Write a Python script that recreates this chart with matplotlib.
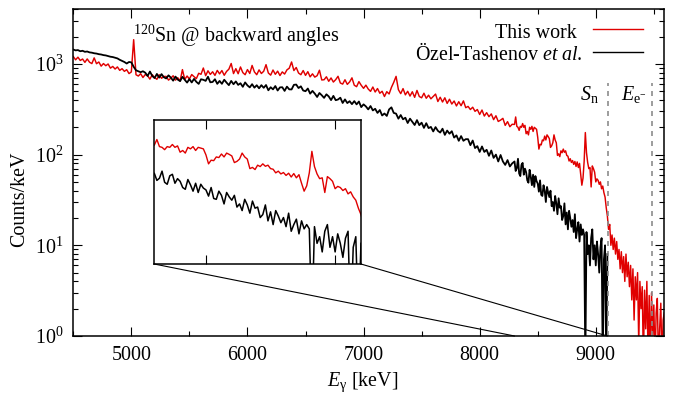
import numpy as np
import matplotlib
matplotlib.use('Agg')
import matplotlib.pyplot as plt
from matplotlib.patches import ConnectionPatch
from matplotlib.lines import Line2D
from matplotlib.ticker import LogLocator, NullFormatter, MultipleLocator, NullLocator, FixedLocator

plt.rcParams['font.family'] = ['Liberation Serif', 'DejaVu Serif']
plt.rcParams['mathtext.fontset'] = 'custom'
plt.rcParams['mathtext.rm'] = 'Liberation Serif'
plt.rcParams['mathtext.it'] = 'Liberation Serif:italic'
plt.rcParams['mathtext.bf'] = 'Liberation Serif:bold'

# ---------------- data (counts/keV) ----------------
# segment A: 4500 keV upward in 20 keV steps
start_a, step_a = 4500, 20
red_a = [
    1205, 1109, 1186, 1091, 1132, 1040, 1134, 1044, 1008, 1165,
    1005, 1050, 945, 1009, 955, 998, 898, 938, 878, 926,
    849, 886, 828, 863, 782, 816, 1850, 760, 735, 780,
    708, 764, 740, 679, 761, 708, 676, 760, 694, 726,
    728, 663, 695, 740, 662, 704, 649, 865, 674, 735,
    682, 763, 723, 688, 788, 768, 901, 741, 840, 766,
    819, 747, 848, 776, 845, 749, 826, 875, 1011, 782,
    886, 779, 925, 802, 760, 866, 784, 962, 816, 760,
    859, 784, 830, 981, 794, 752, 856, 768, 832, 744,
    816, 773, 859, 897, 1050, 845, 913, 794, 760, 845,
    747, 821, 720, 777, 715, 742, 852, 665, 669, 721,
    643, 700, 631, 671, 730, 616, 599, 669, 595, 633,
    702, 582, 561, 638, 581, 538, 583, 529, 498, 556,
    490, 535, 475, 499, 437, 494, 466, 551, 627, 729,
    520, 470, 534, 456, 499, 442, 493, 428, 510, 437,
    423, 475, 418, 452, 412, 437, 465, 385, 429, 380,
    423, 367, 408, 361, 390, 344, 383, 346, 391, 329,
    340, 314, 333, 300, 314, 277, 310, 266, 290, 262,
    281, 243, 268, 232, 240, 251, 210, 231, 203, 216,
]
black_a = [
    1440, 1410, 1420, 1380, 1395, 1360, 1370, 1340, 1330, 1310,
    1300, 1280, 1270, 1250, 1240, 1220, 1200, 1190, 1170, 1150,
    1110, 1080, 1050, 1010, 1050, 1040, 930, 850, 830, 810,
    830, 800, 736, 824, 737, 698, 775, 706, 772, 713,
    691, 748, 707, 653, 725, 671, 646, 721, 668, 622,
    681, 624, 684, 634, 602, 677, 668, 650, 722, 627,
    632, 678, 603, 649, 603, 669, 622, 583, 649, 597,
    641, 587, 612, 559, 625, 579, 551, 598, 547, 582,
    538, 583, 545, 585, 512, 553, 524, 570, 509, 551,
    553, 504, 562, 524, 523, 588, 592, 542, 566, 509,
    500, 535, 470, 504, 470, 432, 478, 451, 422, 462,
    438, 399, 444, 398, 405, 424, 371, 406, 370, 388,
    360, 389, 358, 385, 334, 358, 340, 315, 343, 307,
    320, 288, 310, 270, 284, 267, 315, 332, 288, 283,
    249, 273, 245, 255, 223, 249, 230, 212, 240, 211,
    225, 197, 222, 196, 202, 180, 201, 183, 175, 193,
    165, 184, 170, 181, 154, 163, 142, 160, 142, 148,
    148, 127, 143, 118, 124, 107, 123, 107, 113, 97,
    111, 92, 100, 84, 99, 84, 77, 87, 74, 80,
]
# segment B: 8300 keV upward in 10 keV steps
start_b, step_b = 8300, 10
red_b = [
    215, 260, 205, 200, 185, 205, 200, 220, 200, 210,
    170, 180, 165, 200, 190, 205, 180, 200, 195, 190,
    155, 115, 130, 128, 145, 142, 160, 145, 165, 158,
    150, 120, 125, 135, 165, 145, 135, 98, 102, 95,
    110, 105, 115, 106, 110, 98, 96, 85, 90, 82,
    86, 78, 84, 74, 83, 72, 80, 60, 46, 55,
    85, 175, 105, 82, 70, 72, 44, 75, 70, 64,
    50, 54, 52, 47, 50, 42, 45, 38, 34, 26,
    21, 15, 17, 10, 13, 9, 12, 8, 11, 7,
    9, 5.5, 8.5, 5, 7.5, 4, 8, 4.5, 6.5, 3.5,
    6, 2.5, 5.5, 1.5, 4.5, 2.5, 5, 0.8, 4, 2,
    3.5, 0.5, 3.2, 1.2, 4, 0.6, 2.8, 0.5, 3, 1,
    2.2, 0.5, 1.8, 2.6, 0.5, 1.2, 2.3, 0.5, 1.5, 1.8,
]
black_b = [
    84, 66, 71, 90, 62, 58, 77, 81, 60, 70,
    64, 52, 49, 68, 57, 46, 60, 44, 58, 51,
    48, 39, 52, 36, 35, 46, 40, 30, 44, 38,
    34, 40, 27, 30, 24, 35, 29, 22, 33, 26,
    27, 19, 21, 29, 17, 23, 15, 24, 20, 16,
    19, 14, 22, 12, 15, 18, 11, 17, 13, 15,
    13, 0.5, 14, 8, 10, 6, 12, 15, 7, 10,
    6, 11, 8, 5, 9.5, 12, 0.5, 7, 10, 0.5,
    8,
]
thresholds = [9107, 9483]          # S_n and E_e- markers (keV)
threshold_labels = [r"$S_{\mathrm{n}}$", r"$E_{\mathrm{e}^{\mathrm{-}}}$"]
series_labels = ["This work", r"Özel-Tashenov $\mathit{et\ al.}$"]

e_red = np.concatenate([start_a + step_a * np.arange(len(red_a)),
                        start_b + step_b * np.arange(len(red_b))])
v_red = np.array(red_a + red_b, dtype=float)
e_blk = np.concatenate([start_a + step_a * np.arange(len(black_a)),
                        start_b + step_b * np.arange(len(black_b))])
v_blk = np.array(black_a + black_b, dtype=float)

RED = '#e00000'
FS = 14.4

fig = plt.figure(figsize=(6.83, 3.94), dpi=100)
ax = fig.add_axes([0.1073, 0.1472, 0.8653, 0.8292])

ax.plot(e_red, v_red, color=RED, lw=1.05)
ax.plot(e_blk, v_blk, color='black', lw=1.3)

ax.set_yscale('log')
ax.set_xlim(4500, 9590)
ax.set_ylim(1, 4000)
ax.xaxis.set_major_locator(MultipleLocator(1000))
ax.xaxis.set_minor_locator(MultipleLocator(500))
ax.yaxis.set_major_locator(LogLocator(base=10))
ax.yaxis.set_minor_locator(LogLocator(base=10, subs=np.arange(2, 10)))
ax.yaxis.set_minor_formatter(NullFormatter())
ax.tick_params(which='both', direction='in', top=True, right=True,
               labelsize=FS, width=0.8, pad=7)
ax.tick_params(which='major', length=6.5)
ax.tick_params(which='minor', length=3.3)
for s in ax.spines.values():
    s.set_linewidth(1.1)

ax.set_xlabel(r"$E_{\mathrm{\gamma}}$ [keV]", fontsize=FS)
ax.xaxis.set_label_coords(0.49, -0.105)
ax.set_ylabel("Counts/keV", fontsize=FS)
ax.yaxis.set_label_coords(-0.075, 0.42)

# threshold markers
ax.vlines(thresholds, 1, 620, colors='#8c8c8c', linestyles=(0, (3, 3)), lw=1.2)
ax.text(8948, 395, threshold_labels[0], fontsize=FS, ha='center', va='baseline')
ax.text(9327, 395, threshold_labels[1], fontsize=FS, ha='center', va='baseline')

ax.text(0.101, 0.901, r"$^{120}$Sn @ backward angles", transform=ax.transAxes,
        fontsize=FS, va='baseline', ha='left')

# key
ax.text(0.852, 0.911, series_labels[0], transform=ax.transAxes, fontsize=FS,
        ha='right', va='baseline')
ax.add_line(Line2D([0.879, 0.964], [0.939, 0.939], transform=ax.transAxes,
                   color=RED, lw=1.0))
ax.text(0.862, 0.845, series_labels[1], transform=ax.transAxes, fontsize=FS,
        ha='right', va='baseline')
ax.add_line(Line2D([0.879, 0.964], [0.868, 0.868], transform=ax.transAxes,
                   color='black', lw=1.0))

# inset
axin = fig.add_axes([0.2259, 0.3299, 0.3026, 0.3655])
axin.plot(e_red, v_red, color=RED, lw=1.0)
axin.plot(e_blk, v_blk, color='black', lw=1.1)
axin.set_yscale('log')
axin.set_xlim(8300, 9100)
axin.set_ylim(4, 500)
axin.xaxis.set_major_locator(FixedLocator([8500, 9000]))
axin.xaxis.set_minor_locator(NullLocator())
axin.yaxis.set_major_locator(NullLocator())
axin.yaxis.set_minor_locator(NullLocator())
axin.tick_params(axis='x', which='major', direction='in', top=True, bottom=True,
                 labelbottom=False, length=6.5, width=0.8)
for s in axin.spines.values():
    s.set_linewidth(1.1)

for xa, xb in [(0, 8300), (1, 9100)]:
    con = ConnectionPatch(xyA=(xa, 0), coordsA=axin.transAxes,
                          xyB=(xb, 1), coordsB=ax.transData,
                          color='black', lw=0.8)
    fig.add_artist(con)

fig.savefig('out.png', dpi=100)
